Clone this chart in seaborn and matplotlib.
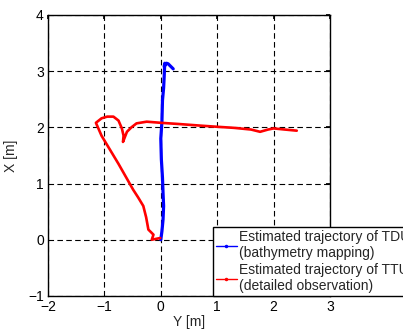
import matplotlib
matplotlib.use("Agg")
import matplotlib.pyplot as plt
import seaborn as sns
import pandas as pd
from matplotlib.lines import Line2D

# TDU (blue) trajectory
td_y = [0.0, 0.02, 0.04, 0.05, 0.04, 0.03, 0.01, 0.0, 0.02, 0.03, 0.05, 0.06, 0.07, 0.06, 0.1, 0.13, 0.16, 0.22]
td_x = [0.0, 0.15, 0.36, 0.6, 0.83, 1.1, 1.43, 1.8, 2.1, 2.48, 2.7, 2.9, 3.14, 3.08, 3.14, 3.13, 3.1, 3.04]

# TT (red) trajectory
tt_y = [-0.01, -0.16, -0.13, -0.22, -0.26, -0.31, -0.4, -0.49, -0.62, -0.75, -0.9, -1.05, -1.15,
        -1.05, -0.95, -0.84, -0.75, -0.69, -0.66, -0.67, -0.6, -0.52, -0.43, -0.25, 0.0,
        0.3, 0.7, 0.99, 1.3, 1.6, 1.76, 1.9, 2.0, 2.2, 2.41]
tt_x = [0.03, 0.0, 0.09, 0.18, 0.4, 0.6, 0.75, 0.89, 1.12, 1.35, 1.6, 1.85, 2.08,
        2.16, 2.19, 2.19, 2.12, 1.98, 1.85, 1.74, 1.92, 2.0, 2.07, 2.1, 2.08,
        2.06, 2.03, 2.01, 1.99, 1.96, 1.92, 1.96, 1.98, 1.96, 1.94]

labels = ["Estimated trajectory of TDU\n(bathymetry mapping)",
          "Estimated trajectory of TTU\n(detailed observation)"]
colors = ["#0000ff", "#ff0000"]

sns.set_theme(style="white")
plt.rcParams['font.family'] = ['Liberation Sans', 'DejaVu Sans']

fig = plt.figure(figsize=(4.03, 3.31), dpi=100)
ax = fig.add_axes([0.119, 0.106, 0.700, 0.849])
ax.set_axisbelow(True)

df_td = pd.DataFrame({"Y": td_y, "X": td_x})
df_tt = pd.DataFrame({"Y": tt_y, "X": tt_x})
sns.lineplot(data=df_td, x="Y", y="X", sort=False, estimator=None, color=colors[0],
             linewidth=2.3, ax=ax, zorder=3)
sns.lineplot(data=df_tt, x="Y", y="X", sort=False, estimator=None, color=colors[1],
             linewidth=1.9, ax=ax, zorder=3)

ax.set_xlim(-2, 3)
ax.set_ylim(-1, 4)
ax.set_xticks([-2, -1, 0, 1, 2, 3])
ax.set_yticks([-1, 0, 1, 2, 3, 4])
ax.grid(True, color="black", linestyle=(0, (5, 3)), linewidth=0.8)
for s in ax.spines.values():
    s.set_color("black")
    s.set_linewidth(1.0)
ax.tick_params(direction="in", length=3, top=True, right=True, labelsize=10,
               colors="black", pad=3)
ax.set_xlabel("Y [m]", fontsize=10, labelpad=1)
ax.set_ylabel("X [m]", fontsize=10, labelpad=7)

handles = [Line2D([], [], color=c, linewidth=1.0, marker=".", markersize=3) for c in colors]
leg = ax.legend(handles, labels, loc="lower left", bbox_to_anchor=(213 / 403, 35 / 331),
                bbox_transform=fig.transFigure, fontsize=10, frameon=True,
                fancybox=False, framealpha=1, edgecolor="black", borderpad=0.2,
                handlelength=1.5, handletextpad=0.15, labelspacing=0.2,
                borderaxespad=0)
leg.get_frame().set_linewidth(1.0)
leg.set_clip_on(False)

fig.savefig("out.png", dpi=100)
